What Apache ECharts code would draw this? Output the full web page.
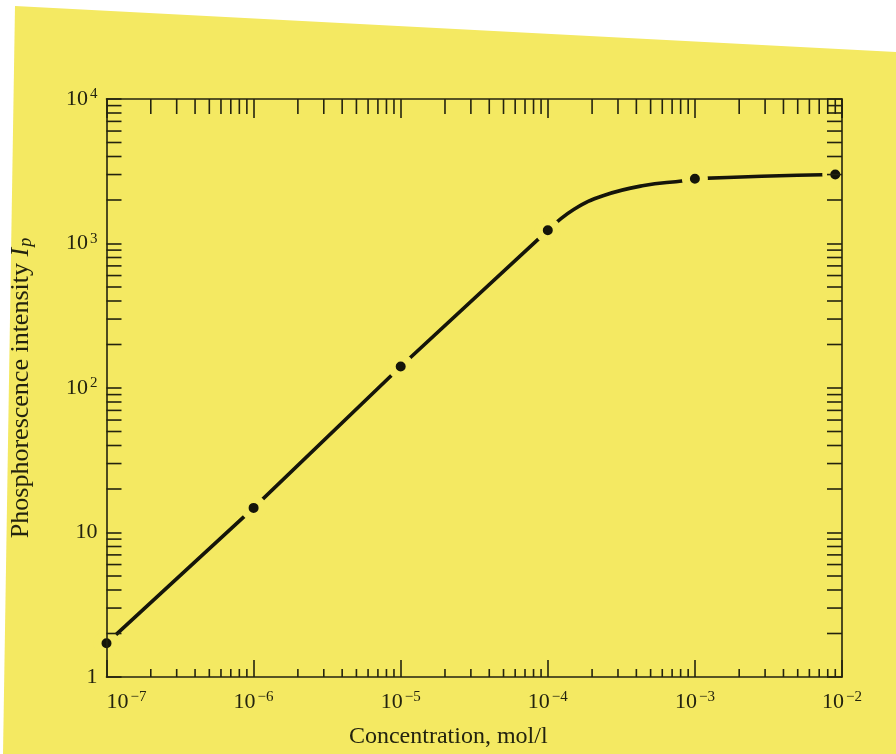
<!DOCTYPE html>
<html><head><meta charset="utf-8">
<script src="https://cdn.jsdelivr.net/npm/echarts@6/dist/echarts.min.js"></script>
<style>html,body{margin:0;padding:0;background:#fff}#c{width:896px;height:754px}</style>
</head><body><div id="c"></div>
<script>
// Measured points (concentration mol/l, phosphorescence intensity)
const pointX = [1e-7, 1e-6, 1e-5, 1e-4, 1e-3, 9e-3];
const pointY = [1.71, 14.8, 141, 1234, 2810, 3000];
// Drawn curve: straight rising part and the bending/plateau part
const riseX = [1e-7, 1e-6, 1e-5, 1e-4];
const riseY = [1.71, 14.8, 141, 1234];
const bendX = [1e-4, 1.5e-4, 2.4e-4, 4.5e-4, 8.4e-4, 1e-3, 9e-3];
const bendY = [1234, 1720, 2150, 2520, 2720, 2810, 3000];
// Axis ranges and ticks
const xMin = 1e-7, xMax = 1e-2;
const yMin = 1, yMax = 1e4;
const xDecades = [1e-7, 1e-6, 1e-5, 1e-4, 1e-3];
const yDecades = [1, 10, 100, 1000];
const minorMult = [2, 3, 4, 5, 6, 7, 8, 9];

const ink = '#23230f';
const paper = '#f4e962';
const serif = 'Liberation Serif';

const xMinor = [];
xDecades.forEach(d => minorMult.forEach(m => xMinor.push(m * d)));
const yMinor = [];
yDecades.forEach(d => minorMult.forEach(m => yMinor.push(m * d)));

function tickSeries(data, size, offset) {
  return {
    type: 'scatter', silent: true, z: 11, clip: false, animation: false,
    symbol: 'rect', symbolSize: size, symbolOffset: offset,
    itemStyle: { color: ink, opacity: 1 }, emphasis: { disabled: true },
    data: data
  };
}

const rich = {
  b: { fontSize: 22, fontFamily: serif, color: ink, lineHeight: 24 },
  b1: { fontSize: 22, fontFamily: serif, color: ink, lineHeight: 24, padding: [0, 0, 0, 40] },
  s: { fontSize: 15, fontFamily: serif, color: ink, lineHeight: 15, verticalAlign: 'top', padding: [0, 0, 0, 2] }
};

function expLabel(v, first) {
  const e = Math.round(Math.log10(v));
  if (e === 0) return '{b|1}';
  if (e === 1) return '{b|10}';
  const es = String(e).replace('-', '\u2212');
  return '{' + (first ? 'b1' : 'b') + '|10}{s|' + es + '}';
}

const axisBase = {
  type: 'log', logBase: 10, z: 10,
  axisLine: { show: true, lineStyle: { color: ink, width: 1.6 } },
  splitLine: { show: false },
  minorTick: { show: false }
};

const curveStyle = { color: '#15150a', width: 3.6, join: 'round', cap: 'round' };

const option = {
  backgroundColor: '#ffffff',
  animation: false,
  graphic: [{
    type: 'polygon', z: -10, silent: true,
    shape: { points: [[15, 6], [896, 52], [896, 754], [3, 754]] },
    style: { fill: paper }
  }],
  grid: { left: 106, right: 54, top: 99, bottom: 74 },
  xAxis: [
    Object.assign({}, axisBase, {
      position: 'bottom', min: xMin, max: xMax, splitNumber: 5,
      axisTick: { show: true, inside: true, length: 17, lineStyle: { color: ink, width: 1.6 } },
      axisLabel: {
        margin: 13,
        formatter: v => expLabel(v, Math.round(Math.log10(v)) === -7),
        rich: rich
      },
      name: '{n|Concentration, mol/l}',
      nameLocation: 'middle', nameGap: 48,
      nameTextStyle: {
        rich: { n: { fontSize: 24, fontFamily: serif, color: ink, padding: [0, 52, 0, 0] } }
      }
    }),
    Object.assign({}, axisBase, {
      position: 'top', min: xMin, max: xMax, splitNumber: 5,
      axisTick: { show: true, inside: true, length: 19, lineStyle: { color: ink, width: 1.6 } },
      axisLabel: { show: false }
    })
  ],
  yAxis: [
    Object.assign({}, axisBase, {
      position: 'left', min: yMin, max: yMax, splitNumber: 4,
      axisTick: { show: true, inside: true, length: 15, lineStyle: { color: ink, width: 1.6 } },
      axisLabel: { margin: 9, formatter: v => expLabel(v, false), rich: rich },
      name: '{n|Phosphorescence intensity }{i|I}{p|p}',
      nameLocation: 'middle', nameGap: 71,
      nameTextStyle: {
        rich: {
          n: { fontSize: 26, fontFamily: serif, color: ink, lineHeight: 29 },
          i: { fontSize: 26, fontFamily: serif, fontStyle: 'italic', color: ink, lineHeight: 29 },
          p: { fontSize: 18, fontFamily: serif, fontStyle: 'italic', color: ink, lineHeight: 17, verticalAlign: 'bottom', padding: [0, 0, 0, 1] }
        }
      }
    }),
    Object.assign({}, axisBase, {
      position: 'right', min: yMin, max: yMax, splitNumber: 4,
      axisTick: { show: true, inside: true, length: 15, lineStyle: { color: ink, width: 1.6 } },
      axisLabel: { show: false }
    })
  ],
  series: [
    {
      type: 'line', z: 2, xAxisIndex: 0, yAxisIndex: 0,
      data: riseX.map((x, i) => [x, riseY[i]]),
      smooth: false, showSymbol: false, symbol: 'none',
      lineStyle: curveStyle, emphasis: { disabled: true }, silent: true
    },
    {
      type: 'line', z: 2, xAxisIndex: 0, yAxisIndex: 0,
      data: bendX.map((x, i) => [x, bendY[i]]),
      smooth: 0.45, showSymbol: false, symbol: 'none',
      lineStyle: curveStyle, emphasis: { disabled: true }, silent: true
    },
    {
      type: 'scatter', z: 3, xAxisIndex: 0, yAxisIndex: 0, clip: false,
      data: pointX.map((x, i) => [x, pointY[i]]),
      symbol: 'circle', symbolSize: 18,
      itemStyle: { color: '#15150a', borderColor: paper, borderWidth: 8, opacity: 1 },
      emphasis: { disabled: true }, silent: true
    },
    Object.assign(tickSeries(xMinor.map(v => [v, yMin]), [1.6, 8], [0, -4]), { xAxisIndex: 0, yAxisIndex: 0 }),
    Object.assign(tickSeries(xMinor.map(v => [v, yMax]), [1.6, 15], [0, 7.5]), { xAxisIndex: 0, yAxisIndex: 0 }),
    Object.assign(tickSeries(yMinor.map(v => [xMin, v]), [15, 1.6], [7.5, 0]), { xAxisIndex: 0, yAxisIndex: 0 }),
    Object.assign(tickSeries(yMinor.map(v => [xMax, v]), [15, 1.6], [-7.5, 0]), { xAxisIndex: 0, yAxisIndex: 0 })
  ]
};

const chart = echarts.init(document.getElementById('c'), null, { renderer: 'canvas' });
chart.setOption(option);
</script>
</body></html>
